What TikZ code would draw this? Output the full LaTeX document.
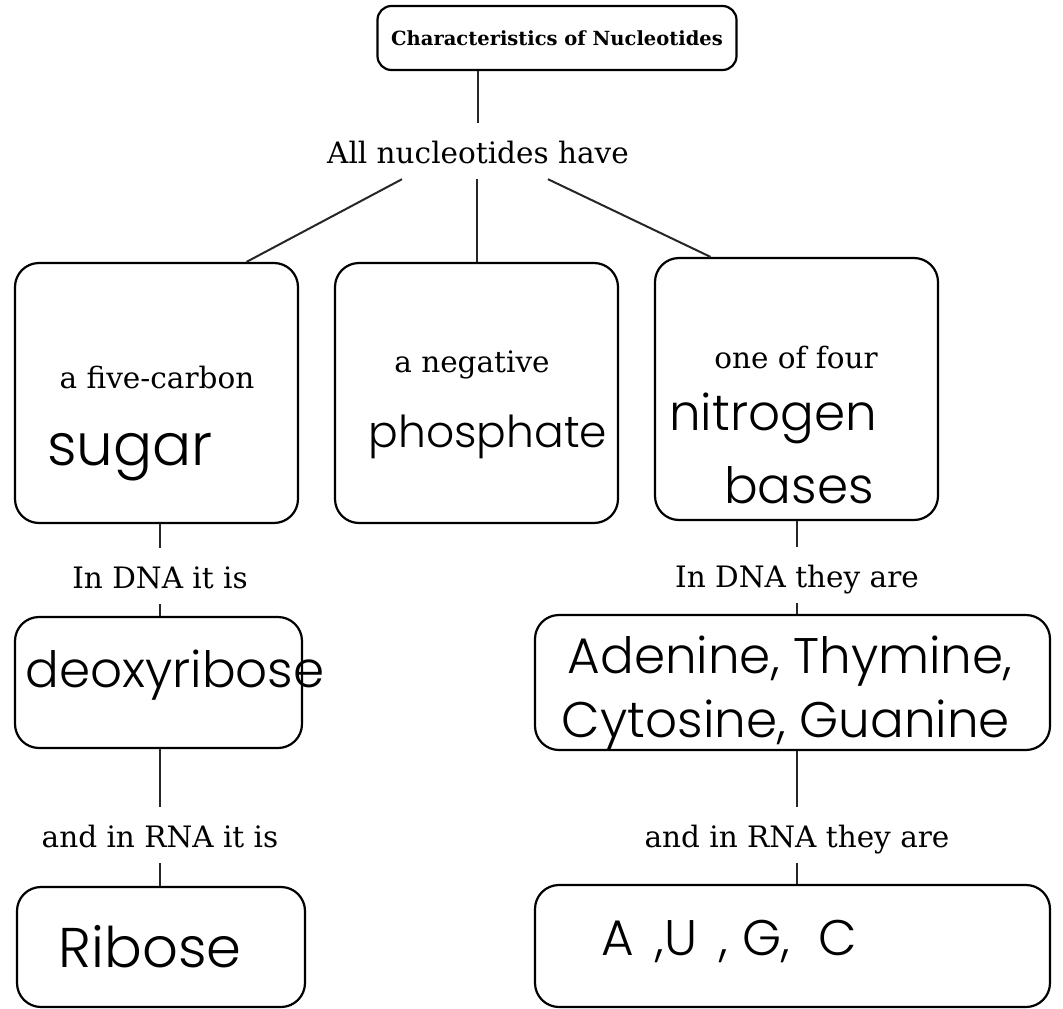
\documentclass[tikz,border=0pt]{standalone}
\usepackage{fontspec}
\setmainfont{DejaVu Serif}
\newfontfamily\handfont{Poppins Light}
\usetikzlibrary{positioning}

\begin{document}
\begin{tikzpicture}[
        line join=round,
        conceptbox/.style={draw=black, line width=2.2pt, rounded corners=24pt, inner sep=0pt},
        titlebox/.style={draw=black, line width=2.2pt, rounded corners=14pt, inner sep=0pt, font=\bfseries\fontsize{19.5}{23}\selectfont},
        linktext/.style={anchor=base, font=\fontsize{29.5}{34}\selectfont, text height=24pt, text depth=0pt, inner xsep=2pt, inner ysep=16pt},
        boxtext/.style={anchor=base, font=\fontsize{29.5}{34}\selectfont, inner sep=0pt},
        handtext/.style={anchor=base, font=\handfont\fontsize{50}{55}\selectfont, inner sep=0pt},
        link/.style={draw=black!85, line width=2pt}
    ]
        \useasboundingbox (0pt, 0pt) rectangle (1063pt, -1009pt);
        % Title and first phrase
        \node[titlebox, minimum width=359pt, minimum height=64pt] (title) at (557pt, -38pt) {Characteristics of Nucleotides};
        \node[linktext] (have) at (478pt, -163pt) {All nucleotides have};
        % Top row of boxes
        \node[conceptbox, minimum width=283pt, minimum height=260pt] (sugarbox) at (156.5pt, -393pt) {};
        \node[conceptbox, minimum width=283pt, minimum height=260pt] (phosbox) at (476.5pt, -393pt) {};
        \node[conceptbox, minimum width=283pt, minimum height=262pt] (basebox) at (796.5pt, -389pt) {};
        \node[boxtext] (fivecarbon) at (157pt, -388pt) {a five-carbon};
        \node[handtext, font=\handfont\fontsize{58}{62}\selectfont] (sugar) at (130pt, -465pt) {sugar};
        \node[boxtext] (negative) at (472pt, -372pt) {a negative};
        \node[handtext, font=\handfont\fontsize{44}{50}\selectfont] (phosphate) at (488pt, -447pt) {phosphate};
        \node[boxtext] (oneoffour) at (796pt, -368pt) {one of four};
        \node[handtext] (nitrogen) at (773pt, -430pt) {nitrogen};
        \node[handtext] (bases) at (799pt, -503pt) {bases};
        % Left column
        \node[linktext] (dnaleft) at (160pt, -588pt) {In DNA it is};
        \node[conceptbox, minimum width=287pt, minimum height=131pt] (deoxybox) at (158.5pt, -682.5pt) {};
        \node[handtext] (deoxy) at (175pt, -687pt) {deoxyribose};
        \node[linktext] (rnaleft) at (160pt, -847pt) {and in RNA it is};
        \node[conceptbox, minimum width=288pt, minimum height=120pt] (ribobox) at (161pt, -947pt) {};
        \node[handtext, font=\handfont\fontsize{56}{60}\selectfont] (ribose) at (150pt, -967pt) {Ribose};
        % Right column
        \node[linktext] (dnaright) at (797pt, -587pt) {In DNA they are};
        \node[conceptbox, minimum width=515pt, minimum height=135pt] (dnabox) at (792.5pt, -682.5pt) {};
        \node[handtext] (dnabases1) at (790pt, -673pt) {Adenine, Thymine,};
        \node[handtext] (dnabases2) at (786pt, -737pt) {Cytosine, Guanine};
        \node[linktext] (rnaright) at (797pt, -847pt) {and in RNA they are};
        \node[conceptbox, minimum width=515pt, minimum height=122pt] (rnabox) at (792.5pt, -946pt) {};
        \node[handtext] (rnabases) at (729pt, -955pt) {A\hspace{22pt},U\hspace{22pt},\hspace{14pt}G,\hspace{28pt}C};
        % Connectors
        \draw[link] (title.south -| have.north) -- (have.north);
        \draw[link] ([xshift=-76pt]have.south) -- ([xshift=90pt]sugarbox.north);
        \draw[link] (have.south -| phosbox.north) -- (phosbox.north);
        \draw[link] ([xshift=70pt]have.south) -- ([xshift=-86pt]basebox.north);
        \draw[link] (dnaleft.north |- sugarbox.south) -- (dnaleft.north);
        \draw[link] (dnaleft.south) -- (dnaleft.south |- deoxybox.north);
        \draw[link] (rnaleft.north |- deoxybox.south) -- (rnaleft.north);
        \draw[link] (rnaleft.south) -- (rnaleft.south |- ribobox.north);
        \draw[link] (dnaright.north |- basebox.south) -- (dnaright.north);
        \draw[link] (dnaright.south) -- (dnaright.south |- dnabox.north);
        \draw[link] (rnaright.north |- dnabox.south) -- (rnaright.north);
        \draw[link] (rnaright.south) -- (rnaright.south |- rnabox.north);
    \end{tikzpicture}
\end{document}
